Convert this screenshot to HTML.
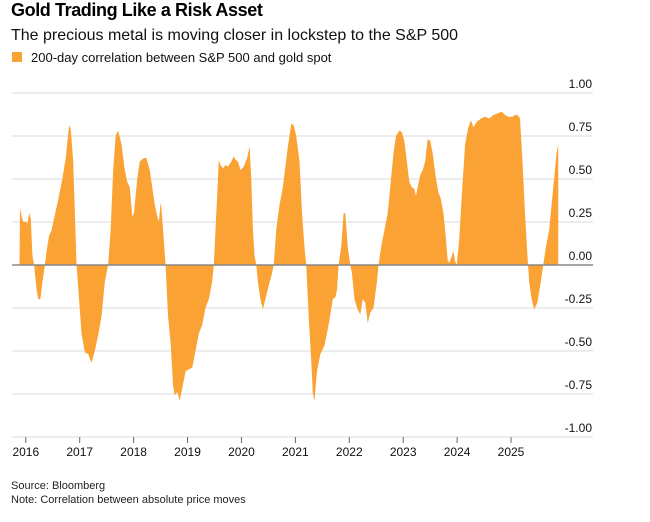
<!DOCTYPE html>
<html><head><meta charset="utf-8"><style>
body{margin:0;background:#fff;width:650px;height:517px;overflow:hidden;font-family:"Liberation Sans",sans-serif;}
</style></head><body>
<svg id="c" width="650" height="517" xmlns="http://www.w3.org/2000/svg" font-family="Liberation Sans, sans-serif">
<text x="11" y="16" font-size="18" font-weight="bold" fill="#000" letter-spacing="-0.4">Gold Trading Like a Risk Asset</text>
<text x="11" y="40" font-size="16" fill="#111">The precious metal is moving closer in lockstep to the S&amp;P 500</text>
<rect x="12" y="52" width="10" height="10" fill="#fba234"/>
<text x="31" y="62" font-size="13" fill="#111">200-day correlation between S&amp;P 500 and gold spot</text>
<g stroke="#e2e2e2" stroke-width="1.2">
<line x1="12" x2="593" y1="93" y2="93"/><line x1="12" x2="593" y1="136" y2="136"/><line x1="12" x2="593" y1="179" y2="179"/><line x1="12" x2="593" y1="222" y2="222"/>
<line x1="12" x2="593" y1="308" y2="308"/><line x1="12" x2="593" y1="351" y2="351"/><line x1="12" x2="593" y1="394" y2="394"/><line x1="12" x2="593" y1="437" y2="437"/>
</g>
<g id="area"></g>
<line x1="12" x2="593" y1="265" y2="265" stroke="#888" stroke-width="1.5"/>
<g font-size="12" fill="#111" text-anchor="end">
<text x="592" y="88">1.00</text><text x="592" y="131">0.75</text><text x="592" y="174">0.50</text><text x="592" y="217">0.25</text><text x="592" y="260">0.00</text>
<text x="592" y="303">-0.25</text><text x="592" y="346">-0.50</text><text x="592" y="389">-0.75</text><text x="592" y="432">-1.00</text>
</g>
<g id="ticks" stroke="#666" stroke-width="1"></g>
<g font-size="12" fill="#111" text-anchor="middle" id="yrs"></g>
<text x="11" y="489" font-size="11" fill="#222">Source: Bloomberg</text>
<text x="11" y="503" font-size="11" fill="#222">Note: Correlation between absolute price moves</text>
</svg>
<script>
var d=[47,0,48,0.33,52,0.28,56,0.25,62,0.25,66,0.24,70,0.30,74,0.27,78,0.05,82,0,88,-0.15,92,-0.2,97,-0.2,102,-0.1,108,0,112,0.08,118,0.17,124,0.2,130,0.27,140,0.38,150,0.5,158,0.62,166,0.81,170,0.79,176,0.6,180,0.3,184,0,190,-0.2,196,-0.4,204,-0.51,212,-0.52,220,-0.57,228,-0.5,236,-0.41,244,-0.3,252,-0.1,260,0,266,0.2,272,0.55,278,0.75,284,0.78,292,0.7,300,0.55,306,0.48,312,0.45,318,0.28,322,0.3,330,0.5,336,0.6,346,0.62,352,0.62,360,0.55,366,0.45,372,0.35,378,0.28,382,0.25,386,0.36,388,0.33,392,0.2,398,0,404,-0.3,410,-0.45,416,-0.7,420,-0.76,426,-0.74,432,-0.79,438,-0.72,446,-0.62,452,-0.61,462,-0.6,470,-0.5,478,-0.4,486,-0.35,494,-0.25,502,-0.2,510,-0.1,514,0,520,0.3,526,0.61,530,0.58,536,0.56,542,0.58,548,0.57,556,0.6,562,0.63,566,0.61,572,0.6,578,0.55,586,0.57,594,0.62,600,0.69,604,0.5,608,0.2,612,0.05,616,0,620,-0.1,626,-0.2,632,-0.26,638,-0.2,646,-0.12,654,-0.05,658,0,664,0.2,672,0.35,680,0.45,690,0.65,700,0.82,706,0.81,712,0.75,720,0.6,726,0.3,732,0.1,736,0,742,-0.3,748,-0.55,752,-0.75,756,-0.79,762,-0.62,770,-0.52,780,-0.47,790,-0.35,800,-0.2,806,-0.19,810,-0.15,814,0,820,0.1,826,0.3,830,0.3,836,0.1,842,0,846,-0.05,852,-0.2,858,-0.25,866,-0.29,872,-0.2,878,-0.22,884,-0.34,890,-0.28,898,-0.25,906,-0.1,910,0,916,0.1,924,0.2,932,0.3,940,0.5,946,0.65,952,0.75,960,0.78,966,0.77,972,0.72,978,0.6,984,0.48,990,0.45,996,0.44,1000,0.4,1004,0.45,1010,0.52,1016,0.55,1022,0.6,1028,0.73,1034,0.72,1040,0.65,1048,0.5,1054,0.42,1060,0.38,1066,0.3,1072,0.15,1076,0.03,1080,0.01,1086,0.05,1090,0.08,1094,0.02,1098,0,1104,0.15,1110,0.4,1118,0.7,1126,0.8,1132,0.84,1138,0.8,1146,0.83,1156,0.85,1166,0.86,1176,0.85,1186,0.87,1196,0.88,1206,0.89,1214,0.87,1222,0.86,1232,0.86,1238,0.87,1244,0.87,1250,0.85,1256,0.6,1262,0.3,1268,0.05,1272,-0.1,1278,-0.2,1284,-0.26,1292,-0.22,1300,-0.1,1306,0,1312,0.1,1320,0.2,1330,0.45,1338,0.65,1342,0.7,1342,0];
var s=0.416;
var p="M"+(47*s).toFixed(2)+",264.7";
for(var i=0;i<d.length;i+=2){p+=" L"+(d[i]*s).toFixed(2)+","+(264.7-172*d[i+1]).toFixed(2);}
p+=" Z";
var ns="http://www.w3.org/2000/svg";
var e=document.createElementNS(ns,"path");e.setAttribute("d",p);e.setAttribute("fill","#fba234");
document.getElementById("area").appendChild(e);
var t=document.getElementById("ticks"),y=document.getElementById("yrs");
for(var k=0;k<10;k++){var x=(62+k*129.6)*s;
var l=document.createElementNS(ns,"line");l.setAttribute("x1",x);l.setAttribute("x2",x);l.setAttribute("y1",437);l.setAttribute("y2",443);t.appendChild(l);
var tx=document.createElementNS(ns,"text");tx.setAttribute("x",x);tx.setAttribute("y",456);tx.textContent=2016+k;y.appendChild(tx);}
</script>
</body></html>
